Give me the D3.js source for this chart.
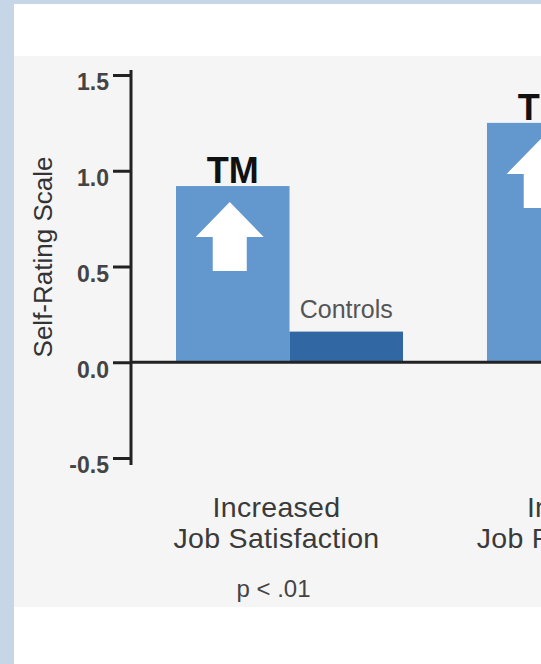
<!DOCTYPE html>
<html>
<head>
<meta charset="utf-8">
<script src="https://cdn.jsdelivr.net/npm/d3@7"></script>
<style>
  body { margin: 0; background: #ffffff; }
  text { font-family: "Liberation Sans", Arial, sans-serif; }
</style>
</head>
<body>
<script>
// chart data
var categories = ["Job Satisfaction", "Job Performance"];
var catLine1 = ["Increased", "Improved"];
var pValues = ["p < .01", "p < .05"];
var groups = ["TM", "Controls"];
var tmValues = [0.92, 1.25];
var controlValues = [0.16, 0.2];
var yTicks = [-0.5, 0, 0.5, 1.0, 1.5];

var width = 541, height = 664;

var svg = d3.select("body").append("svg")
  .attr("width", width)
  .attr("height", height);

// page frame
svg.append("rect").attr("x", 0).attr("y", 0).attr("width", width).attr("height", height).attr("fill", "#c7d6e6");
svg.append("rect").attr("x", 14).attr("y", 4).attr("width", width - 14).attr("height", height - 4).attr("fill", "#ffffff");
svg.append("rect").attr("x", 14).attr("y", 56).attr("width", width - 14).attr("height", 551).attr("fill", "#f5f5f5");

// scales
var y = d3.scaleLinear().domain([-0.5, 1.5]).range([458, 75]);

var x0 = d3.scaleBand()
  .domain(categories)
  .range([176, 714])
  .paddingInner(0.27)
  .paddingOuter(0);

var x1 = d3.scaleBand()
  .domain(groups)
  .range([0, x0.bandwidth()]);

var colors = { "TM": "#6398cf", "Controls": "#3167a2" };

var rows = categories.map(function (c, i) {
  return { cat: c, line1: catLine1[i], p: pValues[i],
    vals: [{ key: "TM", v: tmValues[i] }, { key: "Controls", v: controlValues[i] }] };
});

var g = svg.selectAll(".grp").data(rows).enter().append("g")
  .attr("class", "grp")
  .attr("transform", function (d) { return "translate(" + x0(d.cat) + ",0)"; });

// bars
g.selectAll("rect").data(function (d) { return d.vals; }).enter().append("rect")
  .attr("x", function (d) { return x1(d.key); })
  .attr("width", x1.bandwidth())
  .attr("y", function (d) { return y(d.v); })
  .attr("height", function (d) { return y(0) - y(d.v); })
  .attr("fill", function (d) { return colors[d.key]; });

// white arrow in TM bar
g.append("path")
  .attr("fill", "#ffffff")
  .attr("d", function (d) {
    var cx = x1("TM") + x1.bandwidth() / 2 - 3;
    var top = y(d.vals[0].v);
    var tip = top + 16, base = top + 51, bot = top + 85;
    return "M" + cx + "," + tip +
      "L" + (cx + 34) + "," + base +
      "L" + (cx + 17) + "," + base +
      "L" + (cx + 17) + "," + bot +
      "L" + (cx - 17) + "," + bot +
      "L" + (cx - 17) + "," + base +
      "L" + (cx - 34) + "," + base + "Z";
  });

// TM label
g.append("text")
  .attr("x", x1("TM") + x1.bandwidth() / 2)
  .attr("y", function (d) { return y(d.vals[0].v) - 3; })
  .attr("text-anchor", "middle")
  .style("font-size", "36px")
  .style("font-weight", "bold")
  .attr("fill", "#111")
  .text("TM");

// Controls label (first group only)
g.filter(function (d, i) { return i === 0; }).append("text")
  .attr("x", x1("Controls") + x1.bandwidth() / 2)
  .attr("y", function (d) { return y(d.vals[1].v) - 14; })
  .attr("text-anchor", "middle")
  .style("font-size", "25px")
  .attr("fill", "#555")
  .text("Controls");

// category labels
var lx = x0.bandwidth() / 2 - 13;
g.append("text").attr("x", lx).attr("y", 517).attr("text-anchor", "middle")
  .style("font-size", "28.5px").style("letter-spacing", "0.3px").attr("fill", "#3a3a3a")
  .text(function (d) { return d.line1; });
g.append("text").attr("x", lx).attr("y", 548).attr("text-anchor", "middle")
  .style("font-size", "28.5px").style("letter-spacing", "0.3px").attr("fill", "#3a3a3a")
  .text(function (d) { return d.cat; });
g.append("text").attr("x", lx - 3).attr("y", 597).attr("text-anchor", "middle")
  .style("font-size", "24px").attr("fill", "#444")
  .text(function (d) { return d.p; });

// zero baseline
svg.append("line")
  .attr("x1", 131).attr("x2", width)
  .attr("y1", y(0)).attr("y2", y(0))
  .attr("stroke", "#222").attr("stroke-width", 3);

// y axis
var yAxis = d3.axisLeft(y)
  .tickValues(yTicks)
  .tickFormat(function (d) { return d.toFixed(1); })
  .tickSize(18)
  .tickSizeOuter(0)
  .tickPadding(4);

var ax = svg.append("g")
  .attr("transform", "translate(131,0)")
  .call(yAxis);

ax.select(".domain").remove();
ax.selectAll(".tick line").attr("stroke", "#222").attr("stroke-width", 3);
ax.selectAll(".tick text")
  .attr("dy", "0.65em")
  .attr("fill", "#444")
  .style("font-size", "23px")
  .style("font-weight", "bold")
  .style("font-family", "'Liberation Sans', Arial, sans-serif");

svg.append("line")
  .attr("x1", 131).attr("x2", 131)
  .attr("y1", y(1.5) - 5).attr("y2", y(-0.5) + 7)
  .attr("stroke", "#222").attr("stroke-width", 3);

// y axis title
svg.append("text")
  .attr("transform", "translate(52," + 257 + ") rotate(-90)")
  .attr("text-anchor", "middle")
  .style("font-size", "26px")
  .attr("fill", "#333")
  .text("Self-Rating Scale");
</script>
</body>
</html>
